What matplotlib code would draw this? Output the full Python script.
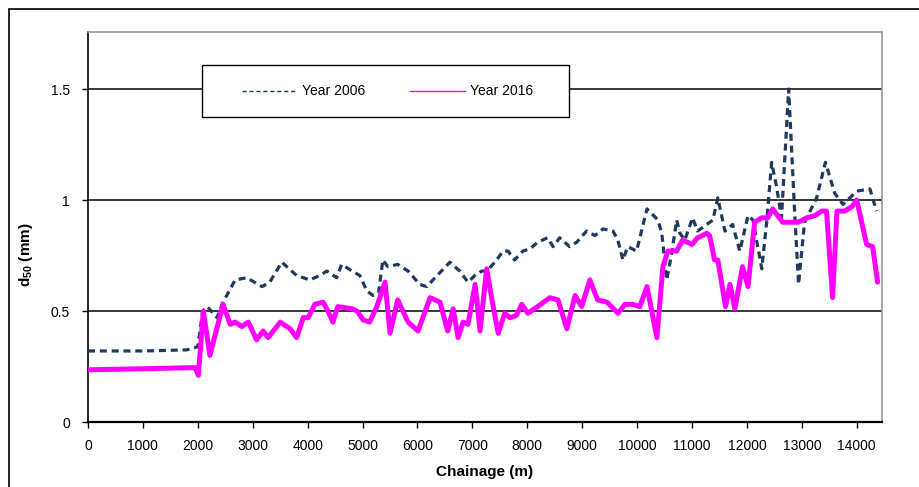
import matplotlib
matplotlib.use("Agg")
import matplotlib.pyplot as plt
from matplotlib.patches import Rectangle
from matplotlib.lines import Line2D

plt.rcParams['font.family'] = ['Liberation Sans', 'DejaVu Sans']
plt.rcParams['mathtext.fontset'] = 'custom'
plt.rcParams['mathtext.bf'] = 'Liberation Sans:bold'
plt.rcParams['mathtext.rm'] = 'Liberation Sans'

# ---------------- data ----------------
x2006 = [0, 1000, 1800, 1950, 2000, 2090, 2170, 2350, 2460, 2680, 2890, 3170, 3310, 3530,
         3800, 4040, 4220, 4350, 4530, 4620, 4810, 4950, 5080, 5190, 5290, 5370, 5460,
         5640, 5830, 6040, 6170, 6320, 6590, 6770, 6920, 7045, 7170, 7260, 7410, 7560,
         7650, 7770, 7920, 8050, 8190, 8370, 8470, 8590, 8770, 8900, 9080, 9230, 9380,
         9560, 9650, 9740, 9830, 9990, 10180, 10380, 10450, 10540, 10630, 10720, 10780,
         10870, 11010, 11100, 11380, 11470, 11600, 11740, 11870, 12020, 12110, 12270,
         12360, 12450, 12540, 12630, 12760, 12870, 12940, 13050, 13270, 13430, 13600,
         13750, 14000, 14240, 14360]
y2006 = [0.32, 0.32, 0.325, 0.335, 0.34, 0.50, 0.52, 0.47, 0.54, 0.64, 0.65, 0.61, 0.63, 0.72,
         0.66, 0.64, 0.66, 0.68, 0.65, 0.71, 0.68, 0.66, 0.59, 0.57, 0.58, 0.73, 0.70,
         0.71, 0.68, 0.62, 0.61, 0.65, 0.72, 0.68, 0.63, 0.66, 0.68, 0.68, 0.72, 0.77,
         0.77, 0.73, 0.77, 0.78, 0.81, 0.83, 0.79, 0.83, 0.79, 0.81, 0.86, 0.84, 0.87,
         0.86, 0.82, 0.73, 0.79, 0.77, 0.96, 0.91, 0.85, 0.64, 0.76, 0.91, 0.85,
         0.82, 0.92, 0.86, 0.91, 1.01, 0.86, 0.89, 0.77, 0.93, 0.91, 0.69,
         0.90, 1.17, 1.06, 0.92, 1.50, 0.94, 0.62, 0.90, 1.01, 1.17, 1.03,
         0.98, 1.04, 1.05, 0.95]

x2016 = [0, 1000, 1950, 2010, 2100, 2220, 2460, 2590, 2680, 2800, 2920, 3070, 3190, 3280,
         3500, 3680, 3800, 3920, 4010, 4130, 4280, 4370, 4460, 4550, 4810, 4900, 5010,
         5130, 5260, 5410, 5500, 5640, 5830, 6010, 6230, 6410, 6550, 6650, 6740, 6830,
         6920, 7050, 7140, 7260, 7350, 7470, 7590, 7680, 7800, 7900, 8010, 8190, 8410,
         8560, 8720, 8870, 8990, 9140, 9280, 9450, 9650, 9780, 9920, 10050, 10180, 10360,
         10470, 10560, 10720, 10830, 11000, 11100, 11270, 11320, 11410, 11470, 11610,
         11690, 11780, 11920, 12020, 12140, 12270, 12380, 12470, 12650, 12780, 12930,
         13090, 13240, 13360, 13450, 13560, 13640, 13780, 13910, 14000, 14090, 14180,
         14290, 14380]
y2016 = [0.235, 0.24, 0.245, 0.21, 0.50, 0.30, 0.53, 0.44, 0.45, 0.43, 0.45, 0.37, 0.41, 0.38,
         0.45, 0.42, 0.38, 0.47, 0.47, 0.53, 0.54, 0.50, 0.45, 0.52, 0.51, 0.50, 0.46,
         0.45, 0.52, 0.63, 0.40, 0.55, 0.45, 0.41, 0.56, 0.54, 0.41, 0.51, 0.38, 0.45,
         0.44, 0.62, 0.41, 0.69, 0.56, 0.40, 0.49, 0.47, 0.48, 0.53, 0.49, 0.52, 0.56,
         0.55, 0.42, 0.57, 0.52, 0.64, 0.55, 0.54, 0.49, 0.53, 0.53, 0.52, 0.61, 0.38,
         0.70, 0.77, 0.77, 0.82, 0.80, 0.83, 0.85, 0.84, 0.73, 0.73, 0.52,
         0.62, 0.51, 0.70, 0.61, 0.90, 0.92, 0.92, 0.96, 0.90, 0.90, 0.90,
         0.92, 0.93, 0.95, 0.95, 0.56, 0.95, 0.95, 0.97, 1.00, 0.90, 0.80,
         0.79, 0.63]

xticks = list(range(0, 14001, 1000))
yticks = [0, 0.5, 1, 1.5]
ytick_labels = ["0", "0.5", "1", "1.5"]
series_labels = ["Year 2006", "Year 2016"]

NAVY = "#1f3a5f"
MAGENTA = "#ff00ff"

W, H = 920, 487
fig = plt.figure(figsize=(W / 100, H / 100), dpi=100)
fx = lambda px: px / W
fy = lambda py: 1 - py / H

ax = fig.add_axes([fx(88), fy(422), fx(882) - fx(88), fy(32) - fy(422)])
ax.set_xlim(0, 14460)
ax.set_ylim(0, 1.757)

for yv in yticks[1:]:
    ax.axhline(yv, color="black", lw=1.1, zorder=1)

ax.plot(x2006, y2006, color=NAVY, lw=2.3, dashes=(2.2, 1.5), zorder=3,
        solid_joinstyle="round", dash_joinstyle="round")
ax.plot(x2016, y2016, color=MAGENTA, lw=3.6, zorder=4, solid_joinstyle="round",
        solid_capstyle="round")

ax.set_xticks(xticks)
ax.set_xticklabels([str(v) for v in xticks])
ax.set_yticks(yticks)
ax.set_yticklabels(ytick_labels)
ax.tick_params(axis="both", direction="out", length=4, width=1, labelsize=10, colors="black")
ax.tick_params(axis="x", pad=8)
ax.tick_params(axis="y", pad=9)

for s in ["left", "bottom"]:
    ax.spines[s].set_color("black")
ax.spines["left"].set_linewidth(1.2)
ax.spines["bottom"].set_linewidth(1.6)
for s in ["top", "right"]:
    ax.spines[s].set_color("#9a9a9a")
    ax.spines[s].set_linewidth(1.2)

ax.set_xlabel("Chainage (m)", fontsize=11, fontweight="bold")
ax.xaxis.set_label_coords((485 - 88) / 794, (422 - 465) / 390)
ax.set_ylabel(r"$\mathbf{d_{50}}$ (mm)", fontsize=11, fontweight="bold")
ax.yaxis.set_label_coords((35 - 88) / 794, (422 - 255) / 390)

# legend box (manual, to match layout)
fig.add_artist(Rectangle((fx(202), fy(117)), fx(569) - fx(202), fy(65) - fy(117),
                         transform=fig.transFigure, facecolor="white",
                         edgecolor="black", lw=1.0, zorder=5))
fig.add_artist(Line2D([fx(242), fx(296)], [fy(91), fy(91)], transform=fig.transFigure,
                      color=NAVY, lw=1.0, dashes=(3, 2), zorder=6))
fig.text(fx(302), fy(91), series_labels[0], fontsize=10, va="center", ha="left", zorder=6)
fig.add_artist(Line2D([fx(410), fx(465)], [fy(91), fy(91)], transform=fig.transFigure,
                      color=MAGENTA, lw=1.0, zorder=6))
fig.text(fx(470), fy(91), series_labels[1], fontsize=10, va="center", ha="left", zorder=6)

# outer chart border
fig.add_artist(Rectangle((fx(9), -0.1), 1.2, fy(9) + 0.1, transform=fig.transFigure,
                         facecolor="none", edgecolor="black", lw=1.2, zorder=0))

fig.savefig("out.png", dpi=100)
